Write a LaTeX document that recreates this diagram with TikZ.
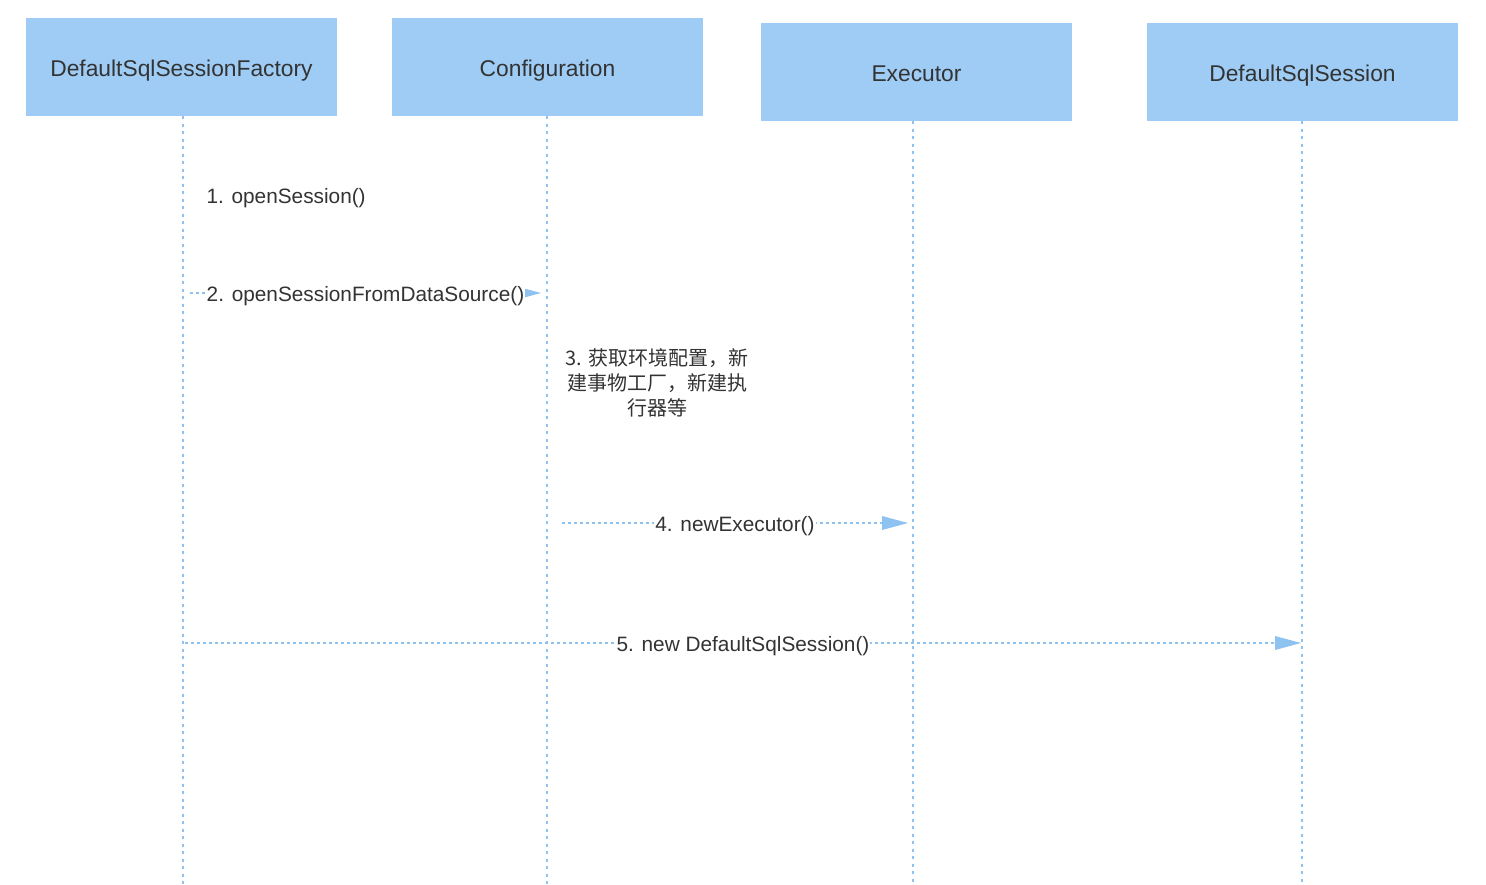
\documentclass[tikz,border=0pt]{standalone}
\usepackage{fontspec}
\setmainfont{Liberation Sans}
\newfontfamily\cjk{Noto Sans CJK SC}
\usetikzlibrary{arrows.meta}
\definecolor{boxblue}{HTML}{9FCCF5}
\definecolor{lineblue}{HTML}{8EC3F1}
\definecolor{txt}{HTML}{333333}
\begin{document}
\begin{tikzpicture}[x=1pt,y=-1pt,
  actor/.style={fill=boxblue, draw=none, minimum width=311pt, minimum height=98pt,
    inner sep=0pt, text=txt, text height=18pt, text depth=0pt,
    font=\fontsize{22.8}{26}\selectfont},
  lifeline/.style={draw=lineblue, line width=1.7pt, dash pattern=on 3pt off 4.5pt},
  msg/.style={draw=lineblue, line width=1.7pt, dash pattern=on 3pt off 3pt,
    -{Triangle[length=26pt,width=14pt,fill=lineblue,line width=0pt]}},
  msglabel/.style={fill=white, inner xsep=1pt, inner ysep=2pt, text=txt, yshift=-3.5pt,
    font=\fontsize{20.8}{24}\selectfont},
  note/.style={text=txt, font=\fontsize{20.8}{24}\selectfont}]
  \useasboundingbox (0,0) rectangle (1486,884);
  \fill[white] (0,0) rectangle (1486,884);

  % participants
  \node[actor] (fac) at (181.5,67) {DefaultSqlSessionFactory};
  \node[actor] (cfg) at (547.5,67) {Configuration};
  \node[actor] (exe) at (916.5,72) {Executor};
  \node[actor] (ses) at (1302.5,72) {DefaultSqlSession};

  % lifeline ends
  \coordinate (facEnd) at (183,884);
  \coordinate (cfgEnd) at (547,884);
  \coordinate (exeEnd) at (913,884);
  \coordinate (sesEnd) at (1302,884);
  \draw[lifeline] (fac.south -| facEnd) -- (facEnd);
  \draw[lifeline] (cfg.south -| cfgEnd) -- (cfgEnd);
  \draw[lifeline] (exe.south -| exeEnd) -- (exeEnd);
  \draw[lifeline] (ses.south -| sesEnd) -- (sesEnd);

  % message end points
  \coordinate (m2a) at (190,293);
  \coordinate (m2b) at (541,293);
  \coordinate (m4a) at (562,523);
  \coordinate (m4b) at (908,523);
  \coordinate (m5a) at (185,643);
  \coordinate (m5b) at (1301,643);

  % steps
  \node[note, anchor=west] (s1) at (203,198) {1. openSession()};
  \draw[msg] (m2a) -- node[msglabel] (s2) {2. openSessionFromDataSource()} (m2b);
  \node[note, align=center, font=\cjk\fontsize{20}{25}\selectfont] (s3) at (657,383)
    {3. 获取环境配置，新\\建事物工厂，新建执\\行器等};
  \draw[msg] (m4a) -- node[msglabel] (s4) {4. newExecutor()} (m4b);
  \draw[msg] (m5a) -- node[msglabel] (s5) {5. new DefaultSqlSession()} (m5b);
\end{tikzpicture}
\end{document}
